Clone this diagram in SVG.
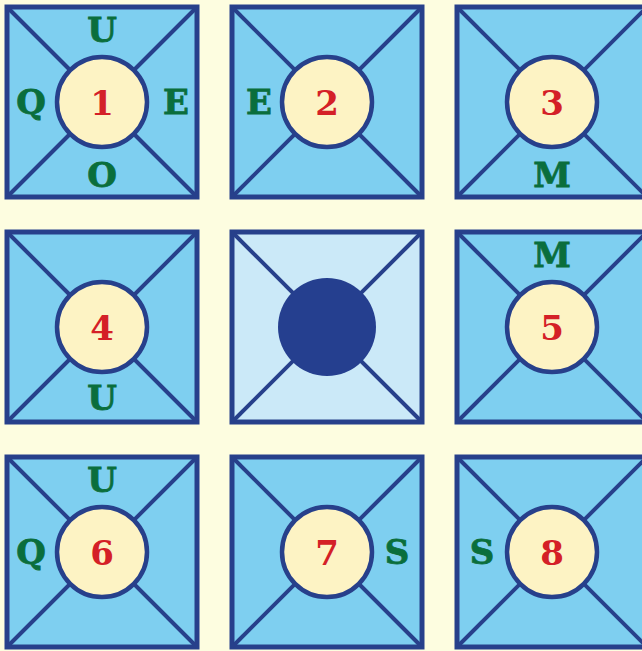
<svg xmlns="http://www.w3.org/2000/svg" width="642" height="651" viewBox="0 0 642 651">
<style>
.sq{fill:#7ecff0;stroke:#27408b;stroke-width:5}
.sqc{fill:#cbe9f8;stroke:#27408b;stroke-width:5}
.dg{stroke:#27408b;stroke-width:4}
.ci{fill:#fdf3c4;stroke:#27408b;stroke-width:4.5}
.num{fill:#d42027;font-family:"DejaVu Serif",serif;font-weight:bold;font-size:34px;text-anchor:middle}
.let{fill:#0a6e3c;stroke:#0a6e3c;stroke-width:0.8;font-family:"DejaVu Serif",serif;font-weight:bold;font-size:34px;text-anchor:middle}
</style>
<defs>
<g id="cell">
<rect class="sq" x="-95" y="-95" width="190" height="190"/>
<line class="dg" x1="-95" y1="-95" x2="95" y2="95"/>
<line class="dg" x1="95" y1="-95" x2="-95" y2="95"/>
<circle class="ci" r="45"/>
</g>
</defs>
<rect width="642" height="651" fill="#fdfde0"/>
<g id="n1" transform="translate(102,102)"><use href="#cell"/><text class="num" y="13">1</text><text class="let" y="-60">U</text><text class="let" x="-71" y="12">Q</text><text class="let" x="74" y="12">E</text><text class="let" y="85">O</text></g>
<g id="n2" transform="translate(327,102)"><use href="#cell"/><text class="num" y="13">2</text><text class="let" x="-68" y="12">E</text></g>
<g id="n3" transform="translate(552,102)"><use href="#cell"/><text class="num" y="13">3</text><text class="let" y="85">M</text></g>
<g id="n4" transform="translate(102,327)"><use href="#cell"/><text class="num" y="13">4</text><text class="let" y="83">U</text></g>
<g id="center" transform="translate(327,327)">
<rect class="sqc" x="-95" y="-95" width="190" height="190"/>
<line class="dg" x1="-95" y1="-95" x2="95" y2="95"/>
<line class="dg" x1="95" y1="-95" x2="-95" y2="95"/>
<circle r="49" fill="#253f8f"/>
</g>
<g id="n5" transform="translate(552,327)"><use href="#cell"/><text class="num" y="13">5</text><text class="let" y="-60">M</text></g>
<g id="n6" transform="translate(102,552)"><use href="#cell"/><text class="num" y="13">6</text><text class="let" y="-60">U</text><text class="let" x="-71" y="12">Q</text></g>
<g id="n7" transform="translate(327,552)"><use href="#cell"/><text class="num" y="13">7</text><text class="let" x="70" y="12">S</text></g>
<g id="n8" transform="translate(552,552)"><use href="#cell"/><text class="num" y="13">8</text><text class="let" x="-70" y="12">S</text></g>
<g id="connectors"/>
</svg>
